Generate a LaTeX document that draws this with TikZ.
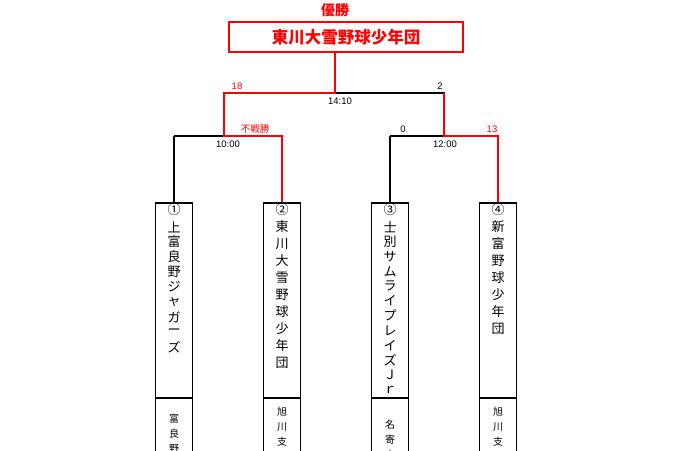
\documentclass[tikz,border=0pt]{standalone}
\usepackage{fontspec}
\setmainfont{Liberation Sans}
\newfontfamily\cjk{Noto Sans CJK JP}
\begin{document}
\begin{tikzpicture}[x=1pt,y=-1pt,
  blk/.style={line width=1.1pt,black},
  win/.style={line width=1.6pt,red},
  lbl/.style={font=\fontsize{9.5}{9.5}\selectfont,inner sep=0pt},
  ch/.style={font=\cjk\fontsize{13}{13}\selectfont,inner sep=0pt},
  sch/.style={font=\cjk\fontsize{10}{10}\selectfont,inner sep=0pt}]
\useasboundingbox[fill=white] (0,0) rectangle (680,450);
% champion
\node[font=\cjk\bfseries\fontsize{14}{14}\selectfont,text=red] (yusho) at (335,10) {優勝};
\node[draw=red,line width=1.8pt,minimum width=234pt,minimum height=30pt,inner sep=0pt,
  font=\cjk\bfseries\fontsize{16.5}{16.5}\selectfont,text=red] (champ) at (346,37) {東川大雪野球少年団};
\coordinate (top) at (335,93);
\coordinate (L) at (224,93);
\coordinate (R) at (444,93);
\coordinate (L2) at (224,136);
\coordinate (R2) at (444,136);
\coordinate (a) at (174,136);
\coordinate (b) at (282,136);
\coordinate (c) at (390,136);
\coordinate (d) at (498,136);
% team boxes
\foreach \n/\x in {1/174,2/282,3/390,4/498}{
  \node[draw,line width=1.1pt,minimum width=37pt,minimum height=195pt,inner sep=0pt] (t\n) at (\x,300.5) {};
  \draw[line width=1.1pt] (\x-18.5,398) -- (\x-18.5,452) (\x+18.5,398) -- (\x+18.5,452);
}
% black lines
\draw[blk] (top) -- (R) -- (R2);
\draw[blk] (a) -- (L2);
\draw[blk] (c) -- (R2);
\draw[blk] (a) -- (t1.north);
\draw[blk] (c) -- (t3.north);
% red lines
\draw[win] (champ.south -| top) -- (top) -- (L) -- (L2) -- (b) -- (t2.north);
\draw[win] (R) -- (R2) -- (d) -- (t4.north);
% labels
\node[lbl] (s1) at (340,101) {14:10};
\node[lbl,text=red] (s18) at (237,86) {18};
\node[lbl] (s2) at (440,86) {2};
\node[lbl] (s3) at (228,144) {10:00};
\node[lbl,text=red,font=\cjk\fontsize{9.5}{9.5}\selectfont] (fs) at (255,129) {不戦勝};
\node[lbl] (s0) at (403,129) {0};
\node[lbl,text=red] (s13) at (492,129) {13};
\node[lbl] (s4) at (445,144) {12:00};
% team names
\foreach \c [count=\i] in {①,上,富,良,野,ジ,ャ,ガ,ー,ズ}
  \node[ch] (a\i) at (174,\ifnum\i=1 210\else 227+15*\i-30\fi) {\c};
\foreach \c [count=\i] in {②,東,川,大,雪,野,球,少,年,団}
  \node[ch] (b\i) at (282,\ifnum\i=1 210\else 227+17*\i-34\fi) {\c};
\foreach \c [count=\i] in {③,士,別,サ,ム,ラ,イ,プ,レ,イ,ズ,Ｊ,ｒ}
  \node[ch] (c\i) at (390,\ifnum\i=1 210\else 227+14.8*\i-29.6\fi) {\c};
\foreach \c [count=\i] in {④,新,富,野,球,少,年,団}
  \node[ch] (d\i) at (498,\ifnum\i=1 210\else 227+17*\i-34\fi) {\c};
% bottom texts
\foreach \c [count=\i] in {富,良,野}
  \node[sch] (e\i) at (174,419+15*\i-15) {\c};
\foreach \c [count=\i] in {旭,川,支,部}
  \node[sch] (f\i) at (282,412+15*\i-15) {\c};
\foreach \c [count=\i] in {名,寄,支}
  \node[sch] (g\i) at (390,425+15*\i-15) {\c};
\foreach \c [count=\i] in {旭,川,支,部}
  \node[sch] (h\i) at (498,412+15*\i-15) {\c};
\end{tikzpicture}
\end{document}
